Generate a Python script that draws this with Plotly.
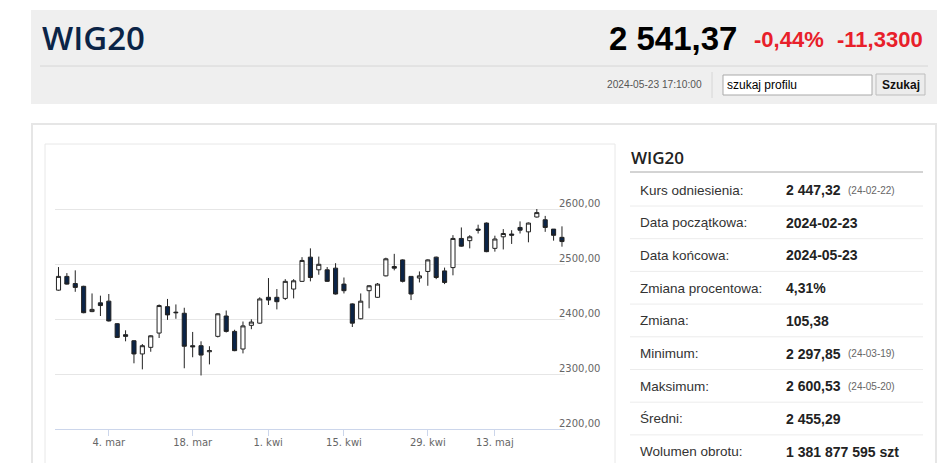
import plotly.graph_objects as go

# --- data ---
dates = [
    "2024-02-23", "2024-02-26", "2024-02-27", "2024-02-28", "2024-02-29",
    "2024-03-01", "2024-03-04", "2024-03-05", "2024-03-06", "2024-03-07",
    "2024-03-08", "2024-03-11", "2024-03-12", "2024-03-13", "2024-03-14",
    "2024-03-15", "2024-03-18", "2024-03-19", "2024-03-20", "2024-03-21",
    "2024-03-22", "2024-03-25", "2024-03-26", "2024-03-27", "2024-03-28",
    "2024-04-02", "2024-04-03", "2024-04-04", "2024-04-05", "2024-04-08",
    "2024-04-09", "2024-04-10", "2024-04-11", "2024-04-12", "2024-04-15",
    "2024-04-16", "2024-04-17", "2024-04-18", "2024-04-19", "2024-04-22",
    "2024-04-23", "2024-04-24", "2024-04-25", "2024-04-26", "2024-04-29",
    "2024-04-30", "2024-05-02", "2024-05-06", "2024-05-07", "2024-05-08",
    "2024-05-09", "2024-05-10", "2024-05-13", "2024-05-14", "2024-05-15",
    "2024-05-16", "2024-05-17", "2024-05-20", "2024-05-21", "2024-05-22",
    "2024-05-23",
]
opens = [
    2453, 2478, 2465, 2460, 2414, 2430, 2433, 2392, 2372, 2361,
    2337, 2349, 2375, 2423, 2413, 2411, 2352, 2352, 2341, 2369,
    2406, 2378, 2346, 2389, 2393, 2440, 2440, 2438, 2455, 2469,
    2513, 2490, 2490, 2493, 2464, 2428, 2401, 2452, 2440, 2479,
    2496, 2508, 2478, 2475, 2487, 2513, 2488, 2494, 2547, 2543,
    2564, 2575, 2529, 2550, 2555, 2567, 2559, 2586, 2581, 2564,
    2549,
]
highs = [
    2495, 2484, 2489, 2461, 2447, 2443, 2446, 2393, 2380, 2362,
    2355, 2371, 2427, 2437, 2427, 2421, 2377, 2360, 2351, 2411,
    2416, 2381, 2396, 2400, 2440, 2475, 2455, 2473, 2473, 2513,
    2529, 2514, 2495, 2502, 2476, 2429, 2447, 2462, 2466, 2512,
    2519, 2509, 2478, 2487, 2509, 2514, 2494, 2553, 2567, 2553,
    2572, 2576, 2552, 2564, 2562, 2578, 2576, 2600.53, 2588, 2564,
    2569,
]
lows = [
    2452, 2463, 2450, 2411, 2413, 2406, 2396, 2366, 2360, 2320,
    2309, 2341, 2366, 2399, 2401, 2311, 2331, 2297.85, 2318, 2367,
    2376, 2342, 2338, 2382, 2392, 2426, 2418, 2435, 2438, 2468,
    2469, 2481, 2468, 2445, 2447, 2386, 2400, 2420, 2439, 2478,
    2489, 2467, 2435, 2467, 2461, 2473, 2464, 2480, 2532, 2529,
    2556, 2522, 2523, 2527, 2537, 2556, 2540, 2585, 2559, 2543,
    2532,
]
closes = [
    2478, 2464, 2458, 2412, 2418, 2425, 2397, 2367, 2369, 2337,
    2352, 2370, 2425, 2408, 2412, 2351, 2350, 2335, 2343, 2410,
    2378, 2343, 2388, 2395, 2437, 2435, 2432, 2469, 2470, 2507,
    2476, 2500, 2469, 2446, 2452, 2393, 2433, 2461, 2464, 2510,
    2493, 2469, 2446, 2479, 2508, 2476, 2467, 2547, 2533, 2550,
    2562, 2523, 2546, 2556, 2553, 2562, 2575, 2594, 2567, 2552.70,
    2541.37,
]
holidays = ["2024-03-29", "2024-05-01", "2024-05-03"]

x_tick_dates = ["2024-03-04", "2024-03-18", "2024-04-01", "2024-04-15", "2024-04-29", "2024-05-13"]
x_tick_labels = ["4. mar", "18. mar", "1. kwi", "15. kwi", "29. kwi", "13. maj"]
y_tick_vals = [2200, 2300, 2400, 2500, 2600, 2700]
y_tick_labels = ["2200,00", "2300,00", "2400,00", "2500,00", "2600,00", ""]

stat_labels = ["Kurs odniesienia:", "Data początkowa:", "Data końcowa:", "Zmiana procentowa:",
               "Zmiana:", "Minimum:", "Maksimum:", "Średni:", "Wolumen obrotu:"]
stat_values = ["2 447,32", "2024-02-23", "2024-05-23", "4,31%", "105,38",
               "2 297,85", "2 600,53", "2 455,29", "1 381 877 595 szt"]
stat_dates = ["(24-02-22)", "", "", "", "", "(24-03-19)", "(24-05-20)", "", ""]

W, H = 948, 463
NAVY = "#0b2447"


def px(x):
    return x / W


def py(y):
    return 1 - y / H


fig = go.Figure(go.Candlestick(
    x=dates, open=opens, high=highs, low=lows, close=closes,
    increasing=dict(line=dict(color="#222222", width=1), fillcolor="#ffffff"),
    decreasing=dict(line=dict(color="#222222", width=1), fillcolor=NAVY),
    whiskerwidth=0, showlegend=False, hoverinfo="skip",
))

shapes = [
    # header band
    dict(type="rect", x0=px(31), x1=px(937), y0=py(10), y1=py(104), fillcolor="#efefef", line_width=0),
    dict(type="line", x0=px(40), x1=px(928), y0=py(66), y1=py(66), line=dict(color="#d6d6d6", width=1)),
    dict(type="line", x0=px(712), x1=px(712), y0=py(72), y1=py(98), line=dict(color="#d6d6d6", width=1)),
    dict(type="rect", x0=px(723), x1=px(872), y0=py(75), y1=py(95), fillcolor="#ffffff", line=dict(color="#a9a9a9", width=1)),
    dict(type="rect", x0=px(876), x1=px(925), y0=py(74), y1=py(95), fillcolor="#ececec", line=dict(color="#bdbdbd", width=1)),
    # outer card and chart frame
    dict(type="rect", x0=px(32), x1=px(936), y0=py(124), y1=py(475), fillcolor="rgba(0,0,0,0)", line=dict(color="#e6e6e6", width=2)),
    dict(type="rect", x0=px(45), x1=px(615), y0=py(144), y1=py(475), fillcolor="rgba(0,0,0,0)", line=dict(color="#e8e8e8", width=1)),
    # stats heading rule
    dict(type="line", x0=px(630), x1=px(923), y0=py(172), y1=py(172), line=dict(color="#a8a8a8", width=1)),
]
for k in range(len(stat_labels) - 1):
    yy = 206 + 32.7 * k
    shapes.append(dict(type="line", x0=px(630), x1=px(923), y0=py(yy), y1=py(yy),
                       line=dict(color="#ececec", width=1)))
for s in shapes:
    s.update(xref="paper", yref="paper", layer="below")

ann = [
    dict(x=px(40), y=py(37), text="WIG20", xanchor="left",
         font=dict(family="Open Sans", size=33, color=NAVY, weight=600)),
    dict(x=px(607), y=py(38), text="2 541,37", xanchor="left",
         font=dict(family="Liberation Sans", size=33, color="#000000", weight="bold")),
    dict(x=px(752), y=py(40), text="-0,44%", xanchor="left",
         font=dict(family="Liberation Sans", size=22, color="#e8202a", weight="bold")),
    dict(x=px(835), y=py(40), text="-11,3300", xanchor="left",
         font=dict(family="Liberation Sans", size=22, color="#e8202a", weight="bold")),
    dict(x=px(605), y=py(85), text="2024-05-23 17:10:00", xanchor="left",
         font=dict(family="Liberation Sans", size=10.2, color="#555555")),
    dict(x=px(725), y=py(85), text="szukaj profilu", xanchor="left",
         font=dict(family="Liberation Sans", size=12, color="#000000")),
    dict(x=px(900.5), y=py(85), text="Szukaj", xanchor="center",
         font=dict(family="Liberation Sans", size=12, color="#111111", weight="bold")),
    dict(x=px(629), y=py(157), text="WIG20", xanchor="left",
         font=dict(family="Open Sans", size=17, color="#222222", weight=600)),
]
for k, (lab, val, dt) in enumerate(zip(stat_labels, stat_values, stat_dates)):
    yy = 190 + 32.7 * k
    ann.append(dict(x=px(638), y=py(yy), text=lab, xanchor="left",
                    font=dict(family="Liberation Sans", size=13.5, color="#333333")))
    ann.append(dict(x=px(784), y=py(yy), text=val, xanchor="left",
                    font=dict(family="Liberation Sans", size=14, color="#222222", weight="bold")))
    if dt:
        ann.append(dict(x=px(846), y=py(yy), text=dt, xanchor="left",
                        font=dict(family="Liberation Sans", size=10, color="#666666")))
for a in ann:
    a.update(xref="paper", yref="paper", yanchor="middle", showarrow=False)

fig.update_layout(
    width=W, height=H,
    margin=dict(l=0, r=0, t=0, b=0),
    paper_bgcolor="#ffffff", plot_bgcolor="rgba(0,0,0,0)",
    font=dict(family="Liberation Sans"),
    showlegend=False,
    shapes=shapes,
    annotations=ann,
    xaxis=dict(
        domain=[px(55), px(565)],
        type="date",
        range=["2024-02-22 14:00", "2024-05-23 08:40"],
        rangebreaks=[
            dict(bounds=["sat", "mon"]),
            dict(values=holidays),
            dict(bounds=["2024-04-01 01:00", "2024-04-02 00:00"]),
        ],
        rangeslider=dict(visible=False),
        tickmode="array", tickvals=x_tick_dates, ticktext=x_tick_labels,
        ticks="outside", ticklen=6, tickcolor="#ccd6eb",
        showline=True, linecolor="#ccd6eb", linewidth=1,
        showgrid=False, zeroline=False, fixedrange=True, automargin=False,
        ticklabelstandoff=-2,
        tickfont=dict(family="DejaVu Sans", size=10, color="#666666"),
    ),
    yaxis=dict(
        domain=[py(429.3), py(154.3)],
        range=[2200, 2700],
        side="right",
        tickmode="array", tickvals=y_tick_vals, ticktext=y_tick_labels,
        ticks="", showline=False, zeroline=False,
        showgrid=True, gridcolor="#e6e6e6", gridwidth=1,
        ticklabelposition="outside", ticklabelstandoff=-7, ticklabelshift=-6,
        tickfont=dict(family="DejaVu Sans", size=10, color="#666666"),
        fixedrange=True, automargin=False,
    ),
)

# page body default margin would push the figure 8px down/right
fig.write_html(
    "out.html",
    config={"displayModeBar": False},
    post_script="document.body.style.margin='0';document.body.style.overflow='hidden';",
)
